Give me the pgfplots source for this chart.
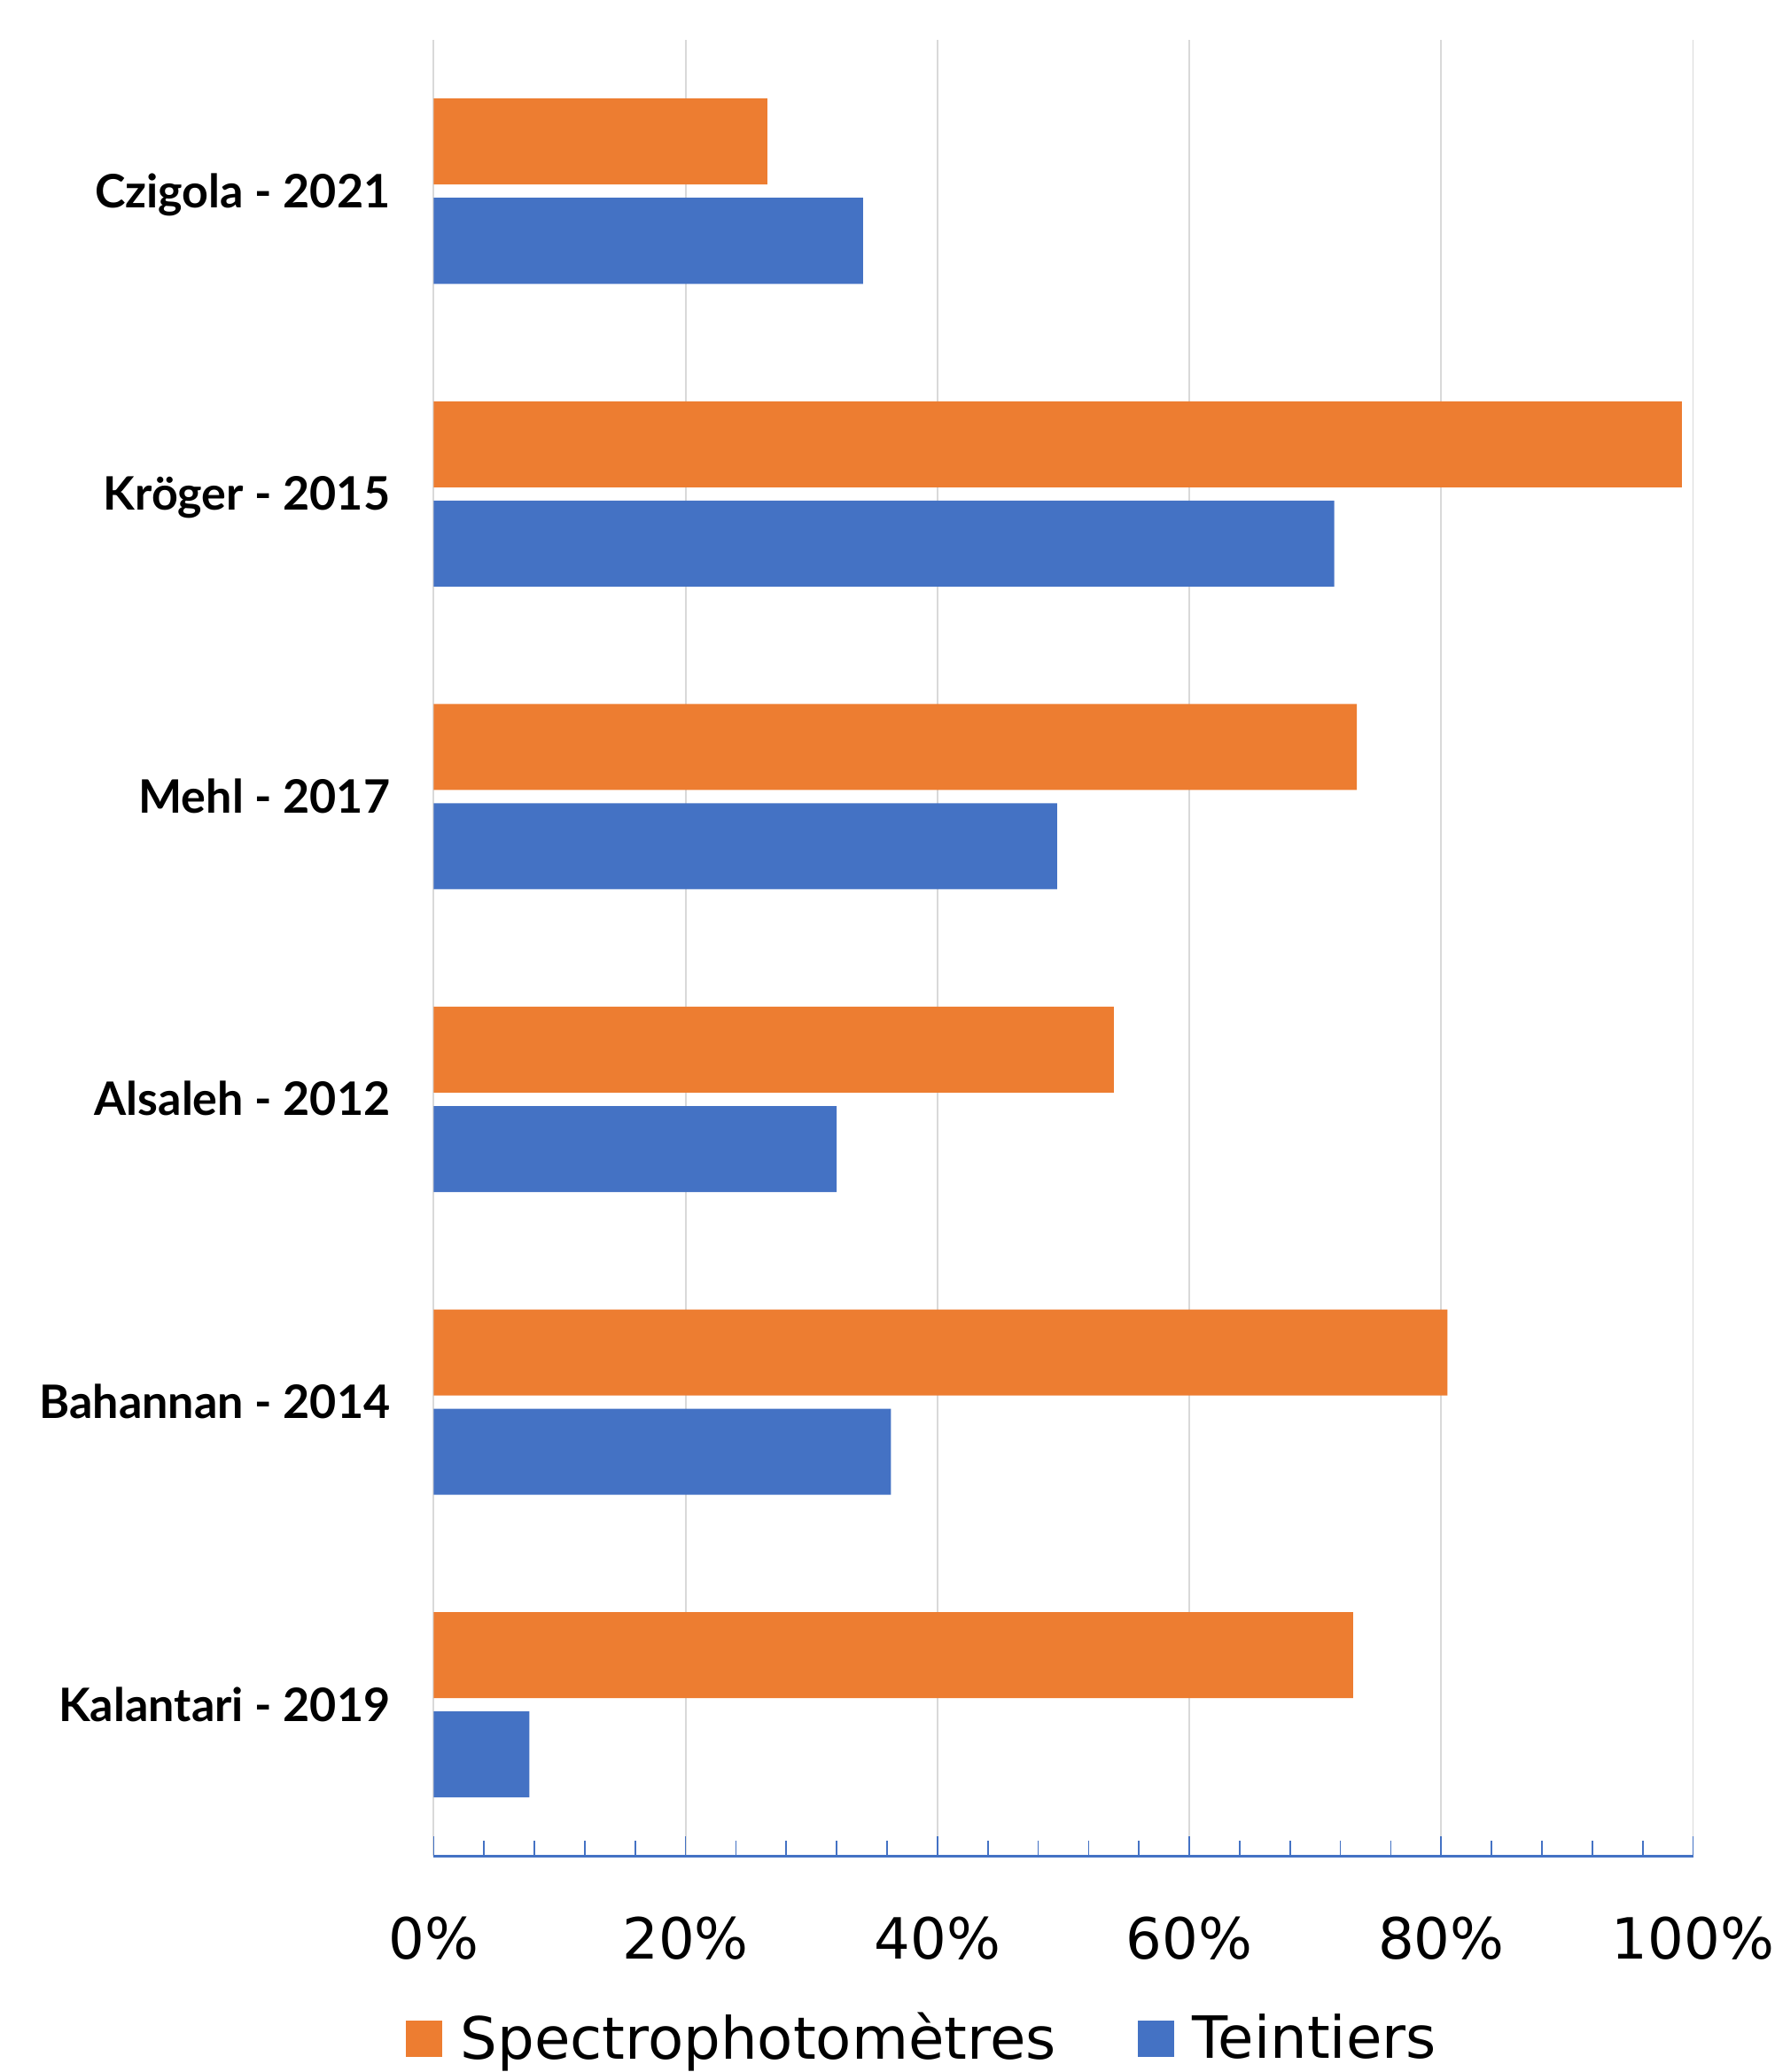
\documentclass[border=0pt]{standalone}
\usepackage{fontspec}
\setmainfont{DejaVu Sans}
\newfontfamily\catfont{Lato}
\usepackage{pgfplots}
\pgfplotsset{compat=1.18}
\definecolor{sorange}{HTML}{ED7D31}
\definecolor{sblue}{HTML}{4472C4}
\definecolor{gridgray}{HTML}{D9D9D9}
\begin{document}
\begin{tikzpicture}
\begin{axis}[
  scale only axis,
  width=341.5pt, height=492.5pt,
  xmin=0, xmax=100, ymin=-0.5, ymax=5.5,
  axis lines*=left,
  x axis line style={draw=sblue, line width=0.6pt},
  y axis line style={draw=none},
  xtick={0,20,...,100},
  xticklabels={0\%,20\%,40\%,60\%,80\%,100\%},
  minor x tick num=4,
  tick align=inside,
  x tick style={draw=sblue, line width=0.4pt},
  major tick length=5.5pt,
  minor tick length=4.2pt,
  xmajorgrids,
  major grid style={draw=gridgray, line width=0.45pt},
  ytick={0,...,5},
  yticklabels={Kalantari - 2019, Bahannan - 2014, Alsaleh - 2012, Mehl - 2017, Kröger - 2015, Czigola - 2021},
  y tick style={draw=none},
  xticklabel style={font=\fontsize{15.4}{18}\selectfont, anchor=base, inner sep=0pt, yshift=-27.8pt},
  yticklabel style={font=\catfont\bfseries\fontsize{12.5}{14}\selectfont, anchor=base east, inner sep=0pt, xshift=-11.6pt, yshift=-4.4pt},
  legend style={draw=none, fill=none, at={(-0.0225,-0.1004)}, anchor=west, legend columns=2,
    font=\fontsize{15.8}{19}\selectfont, inner sep=0pt,
    /tikz/every odd column/.append style={column sep=3pt},
    /tikz/every even column/.append style={column sep=20.2pt}},
]
\addplot[xbar, fill=sorange, draw=none, bar width=0.284, bar shift=0.164,
  legend image code/.code={\fill[sorange] (0pt,-4.9pt) rectangle (9.8pt,4.9pt);}]
  coordinates {(26.5,5) (99.1,4) (73.3,3) (54.0,2) (80.5,1) (73.0,0)};
\addlegendentry{Spectrophotomètres}
\addplot[xbar, fill=sblue, draw=none, bar width=0.284, bar shift=-0.164,
  legend image code/.code={\fill[sblue] (0pt,-4.9pt) rectangle (9.8pt,4.9pt);}]
  coordinates {(34.1,5) (71.5,4) (49.5,3) (32.0,2) (36.3,1) (7.6,0)};
\addlegendentry{Teintiers}
\end{axis}
\path (-117.6pt,-57.84pt) rectangle (363.6pt,503.3pt);
\end{tikzpicture}
\end{document}
